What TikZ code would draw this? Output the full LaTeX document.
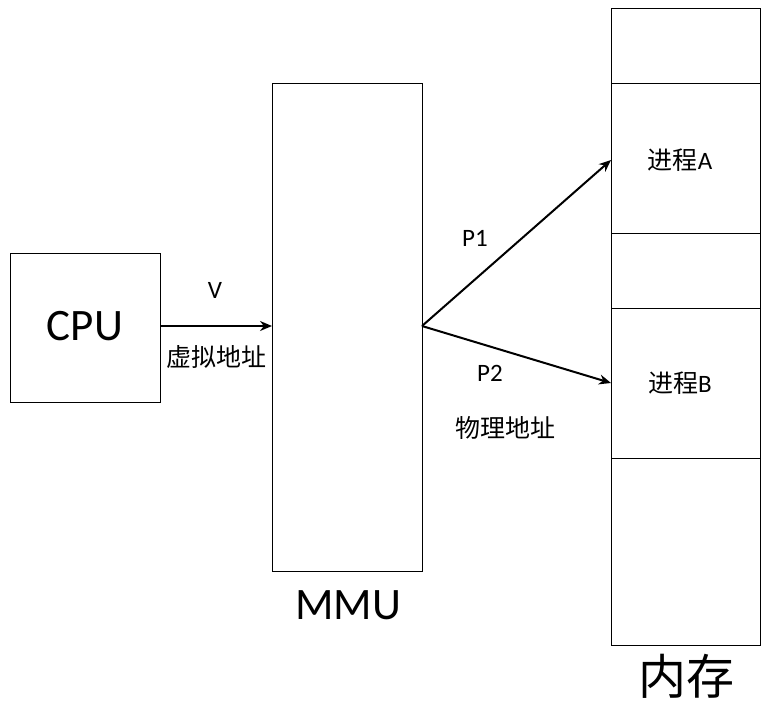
\documentclass[tikz,border=0pt]{standalone}
\usepackage{fontspec}
\usetikzlibrary{arrows.meta}
\setmainfont{Carlito}
\newfontfamily\cjk{Noto Sans CJK SC}
\begin{document}
\begin{tikzpicture}[x=1pt,y=-1pt,
  box/.style={draw,line width=1pt,anchor=north west,inner sep=0},
  lab/.style={font=\fontsize{25}{28}\selectfont},
  clab/.style={font=\fontsize{25}{28}\selectfont\cjk},
  big/.style={font=\fontsize{45}{50}\selectfont},
  arr/.style={line width=2pt,-{Stealth[length=12pt,width=10pt]}}]
\useasboundingbox (0,0) rectangle (770,710);
\node[box,minimum width=150pt,minimum height=149pt] (cpu) at (10,253) {};
\node[big] at (85,326) {CPU};
\node[box,minimum width=150pt,minimum height=488pt] (mmu) at (272,83) {};
\node[big] (mmul) at (348,605) {MMU};
\node[box,minimum width=149pt,minimum height=75pt] (m0) at (611,8) {};
\node[box,minimum width=149pt,minimum height=150pt] (ma) at (611,83) {};
\node[box,minimum width=149pt,minimum height=75pt] (m1) at (611,233) {};
\node[box,minimum width=149pt,minimum height=150pt] (mb) at (611,308) {};
\node[box,minimum width=149pt,minimum height=187pt] (m2) at (611,458) {};
\node[lab] at (680,160) {{\cjk 进程}A};
\node[lab] at (680,383) {{\cjk 进程}B};
\node[font=\fontsize{48}{52}\selectfont\cjk] (mem) at (686,676) {内存};
\coordinate (cr) at (160,326);
\coordinate (ml) at (272,326);
\coordinate (mr) at (422,326);
\coordinate (pa) at (611,160);
\coordinate (pb) at (611,383);
\draw[arr] (cr) -- (ml);
\draw[arr] (mr) -- (pa);
\draw[arr] (mr) -- (pb);
\node[lab] at (215,290) {V};
\node[clab] at (216,357) {虚拟地址};
\node[lab] at (475,238) {P1};
\node[lab] at (490,373) {P2};
\node[clab] at (505,428) {物理地址};
\end{tikzpicture}
\end{document}
